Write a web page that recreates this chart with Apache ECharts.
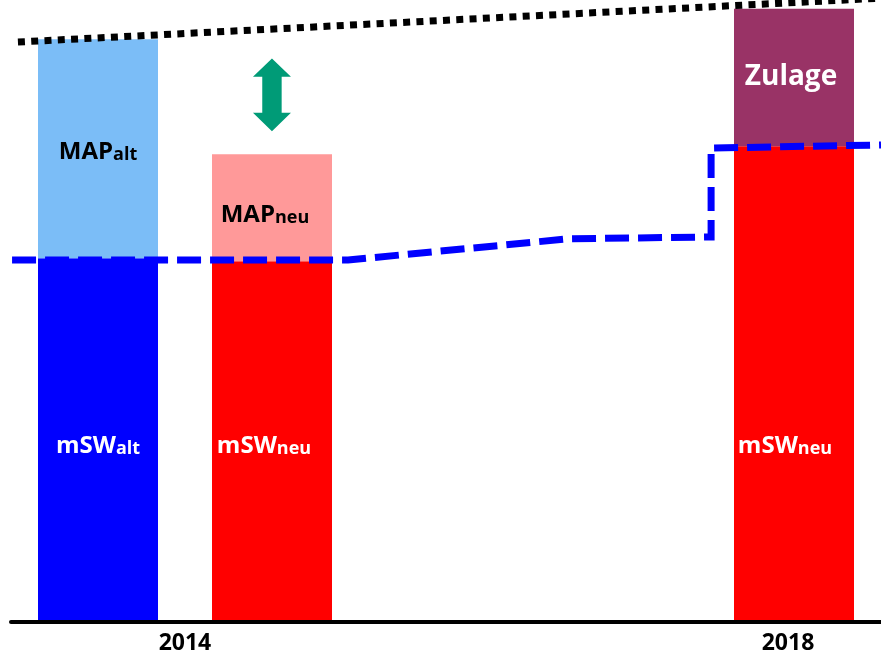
<!DOCTYPE html>
<html>
<head>
<meta charset="utf-8">
<script src="https://cdn.jsdelivr.net/npm/echarts@6/dist/echarts.min.js"></script>
<style>
  html, body { margin: 0; padding: 0; background: #fff; }
  #chart { width: 881px; height: 657px; }
</style>
</head>
<body>
<div id="chart"></div>
<script>
// year axis (labels, lines, arrow); y in arbitrary units (0..100)
const tickYears = [2014, 2018];

// bar slots: five equal slots across the plot, three of them filled
const barSlots = ['2014 alt', '2014 neu', 'leer 1', 'leer 2', '2018 neu'];
const baseValues = [58.5, 58.0, '-', '-', 76.5];     // mSW
const topValues = [35.2, 17.2, '-', '-', 22.1];      // MAP alt / MAP neu / Zulage
const baseSubs = ['alt', 'neu', '', '', 'neu'];
const topNames = ['MAP', 'MAP', '', '', 'Zulage'];
const topSubs = ['alt', 'neu', '', '', ''];

// dashed mSW line (x in years)
const mswLineX = [2012.853, 2015.082, 2016.541, 2017.490, 2017.490, 2018.617];
const mswLineY = [58.2, 58.2, 61.6, 61.9, 76.2, 76.7];

// dotted upper line
const capLineX = [2012.892, 2018.617];
const capLineY = [93.25, 100.3];

// green double arrow
const arrowX = 2014.577;
const arrowFrom = 78.9;
const arrowTo = 90.6;

const baseColors = ['#0000ff', '#ff0000', '#ff0000', '#ff0000', '#ff0000'];
const topColors = ['#7bbdf7', '#ff9999', '#993366', '#993366', '#993366'];
const topTextColors = ['#000000', '#000000', '#ffffff', '#ffffff', '#ffffff'];
// small horizontal nudges of the in-bar texts (px)
const baseLabelShift = [0, -8, 0, 0, -9];
const topLabelShift = [0, -7, 0, 0, -3];

const font = '"Open Sans", "DejaVu Sans", sans-serif';

const chart = echarts.init(document.getElementById('chart'));

const baseData = baseValues.map((v, i) => ({
    value: v,
    itemStyle: { color: baseColors[i] },
    label: {
        offset: [baseLabelShift[i], 0],
        formatter: '{m|mSW}{s|' + baseSubs[i] + '}'
    }
}));

const topData = topValues.map((v, i) => ({
    value: v,
    itemStyle: { color: topColors[i] },
    label: {
        color: topTextColors[i],
        offset: [topLabelShift[i], topSubs[i] === 'neu' ? 4 : 0],
        formatter: topSubs[i]
            ? '{m|' + topNames[i] + '}{s|' + topSubs[i] + '}'
            : '{z|' + topNames[i] + '}'
    }
}));

const richText = {
    m: { fontFamily: font, fontWeight: 'bold', fontSize: 24, verticalAlign: 'bottom', lineHeight: 30 },
    s: { fontFamily: font, fontWeight: 'bold', fontSize: 18, verticalAlign: 'bottom', lineHeight: 30 },
    z: { fontFamily: font, fontWeight: 'bold', fontSize: 28, lineHeight: 34 }
};

const option = {
    animation: false,
    backgroundColor: '#ffffff',
    grid: { left: 11, right: 0, top: 0, bottom: 35, outerBoundsMode: 'none' },
    xAxis: [
        {
            type: 'value',
            min: 2012.846,
            max: 2018.617,
            z: 10,
            axisLine: { show: true, onZero: false, lineStyle: { color: '#000', width: 4 } },
            axisTick: { show: false },
            splitLine: { show: false },
            axisLabel: {
                customValues: tickYears,
                formatter: (v) => String(v),
                margin: 10,
                color: '#000',
                fontFamily: font,
                fontWeight: 'bold',
                fontSize: 23
            }
        },
        {
            type: 'category',
            data: barSlots,
            position: 'bottom',
            show: false
        }
    ],
    yAxis: {
        type: 'value',
        min: 0,
        max: 100,
        show: false
    },
    series: [
        {
            name: 'mSW',
            type: 'bar',
            xAxisIndex: 1,
            stack: 'total',
            barWidth: 120,
            data: baseData,
            label: {
                show: true,
                position: 'insideBottom',
                distance: 164,
                color: '#ffffff',
                rich: richText
            }
        },
        {
            name: 'MAP',
            type: 'bar',
            xAxisIndex: 1,
            stack: 'total',
            barWidth: 120,
            data: topData,
            label: {
                show: true,
                position: 'inside',
                rich: richText
            }
        },
        {
            name: 'mSW Linie',
            type: 'line',
            data: mswLineX.map((x, i) => [x, mswLineY[i]]),
            symbol: 'none',
            clip: false,
            lineStyle: { color: '#0000ff', width: 7, type: [24, 9], cap: 'butt', join: 'miter' },
            z: 5
        },
        {
            name: 'Obergrenze',
            type: 'line',
            data: capLineX.map((x, i) => [x, capLineY[i]]),
            symbol: 'none',
            clip: false,
            lineStyle: { color: '#000000', width: 7, type: [7, 6.3], cap: 'butt' },
            z: 5
        },
        {
            name: 'Pfeil',
            type: 'custom',
            data: [[arrowX, arrowFrom, arrowTo]],
            renderItem: function (params, api) {
                const top = api.coord([api.value(0), api.value(2)]);
                const bot = api.coord([api.value(0), api.value(1)]);
                const hw = 19, sw = 9.7, hh = 18.4;
                const cx = top[0];
                return {
                    type: 'polygon',
                    shape: {
                        points: [
                            [cx, top[1]], [cx + hw, top[1] + hh], [cx + sw, top[1] + hh],
                            [cx + sw, bot[1] - hh], [cx + hw, bot[1] - hh], [cx, bot[1]],
                            [cx - hw, bot[1] - hh], [cx - sw, bot[1] - hh],
                            [cx - sw, top[1] + hh], [cx - hw, top[1] + hh]
                        ]
                    },
                    style: { fill: '#009b77' }
                };
            },
            z: 6
        }
    ]
};

chart.setOption(option);
</script>
</body>
</html>
